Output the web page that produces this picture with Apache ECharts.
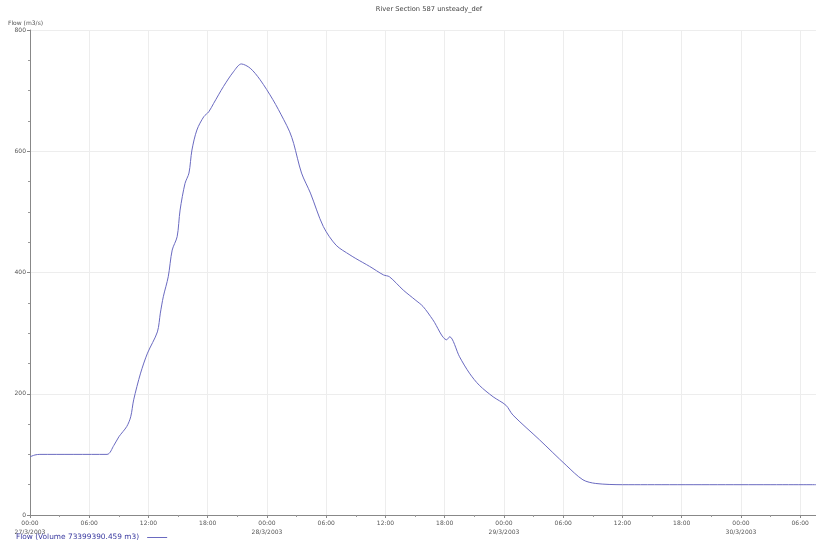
<!DOCTYPE html>
<html><head><meta charset="utf-8">
<script src="https://cdn.jsdelivr.net/npm/echarts@6/dist/echarts.min.js"></script>
<style>html,body{margin:0;padding:0;background:#fff}#c{width:816px;height:541px}</style>
</head><body><div id="c"></div>
<script>
// hours since 27/3/2003 00:00
const hours = [0, 0.5, 1, 7.8, 8.5, 9.0, 9.8, 10.2, 10.5, 11.2, 11.9, 12.9, 13.2, 13.5, 14.0, 14.4, 14.9, 15.2, 15.7, 16.1, 16.4, 16.9, 17.6, 18.1, 18.6, 19.6, 20.6, 21.4, 22.3, 23.3, 24.6, 25.7, 26.3, 26.7, 27.5, 28.4, 29.7, 31.0, 32.4, 33.0, 34.4, 35.8, 36.4, 37.8, 39.0, 39.8, 40.8, 42.2, 42.5, 43.5, 44.5, 45.5, 46.9, 48.2, 48.9, 51.6, 54.3, 56.0, 57.3, 60.0, 79.6];
const flow = [96, 99, 100, 100, 115, 129, 146, 162, 190, 234, 267, 302, 333, 360, 393, 437, 459, 503, 547, 564, 602, 635, 657, 665, 679, 707, 731, 744, 737, 718, 685, 652, 632, 613, 564, 531, 476, 445, 429, 423, 410, 396, 393, 371, 355, 344, 322, 289, 294, 261, 234, 214, 195, 181, 165, 124, 82, 58, 52, 50, 50];
const dayLabels = ['27/3/2003', '28/3/2003', '29/3/2003', '30/3/2003'];
const titleText = 'River Section 587 unsteady_def';
const yName = 'Flow (m3/s)';
const seriesName = 'Flow (Volume 73399390.459 m3)';

const data = hours.map((h, i) => [h, flow[i]]);
const chart = echarts.init(document.getElementById('c'), null, {renderer: 'canvas'});
const lab = {color: '#555', fontSize: 6, fontFamily: 'DejaVu Sans'};
chart.setOption({
  animation: false,
  title: {text: titleText, left: 424, top: 1, textAlign: 'center',
    textStyle: {fontSize: 6.7, fontWeight: 'normal', color: '#444', fontFamily: 'DejaVu Sans'}},
  grid: {left: 30, right: 0, top: 30, bottom: 26, containLabel: false},
  legend: {data: [{name: seriesName, icon: 'rect'}], left: 16, top: 534, align: 'right', itemWidth: 20, itemHeight: 1, itemGap: 4, padding: 0,
    textStyle: {fontSize: 7.4, color: '#3a3aa0', fontFamily: 'DejaVu Sans', padding: [0, 3, 0, 0]}},
  xAxis: {type: 'value', min: 0, max: 79.6, interval: 6,
    axisLine: {lineStyle: {color: '#888'}},
    axisTick: {show: true, length: 3, inside: false, lineStyle: {color: '#888'}},
    minorTick: {show: true, splitNumber: 2, length: 2, lineStyle: {color: '#999'}},
    splitLine: {show: true, lineStyle: {color: '#ededed', width: 1}},
    axisLabel: Object.assign({}, lab, {margin: 4, lineHeight: 9, showMaxLabel: false,
      formatter: v => { const h = Math.round(v) % 24; const s = (h < 10 ? '0' : '') + h + ':00';
        return h === 0 ? s + '\n' + dayLabels[Math.round(v) / 24] : s; }})},
  yAxis: {type: 'value', min: 0, max: 800, interval: 200, name: yName,
    nameLocation: 'end', nameGap: 4, nameTextStyle: Object.assign({}, lab, {align: 'left', padding: [0, 0, 0, -22]}),
    axisLine: {show: true, lineStyle: {color: '#888'}},
    axisTick: {show: true, length: 3, lineStyle: {color: '#888'}},
    minorTick: {show: true, splitNumber: 4, length: 2, lineStyle: {color: '#999'}},
    splitLine: {show: true, lineStyle: {color: '#ededed', width: 1}},
    axisLabel: Object.assign({}, lab, {margin: 4})},
  series: [{name: seriesName, type: 'line', data: data, symbol: 'none', smooth: 0.3,
    lineStyle: {color: '#6a6ac0', width: 1}, itemStyle: {color: '#6a6ac0'}}]
});
</script></body></html>
